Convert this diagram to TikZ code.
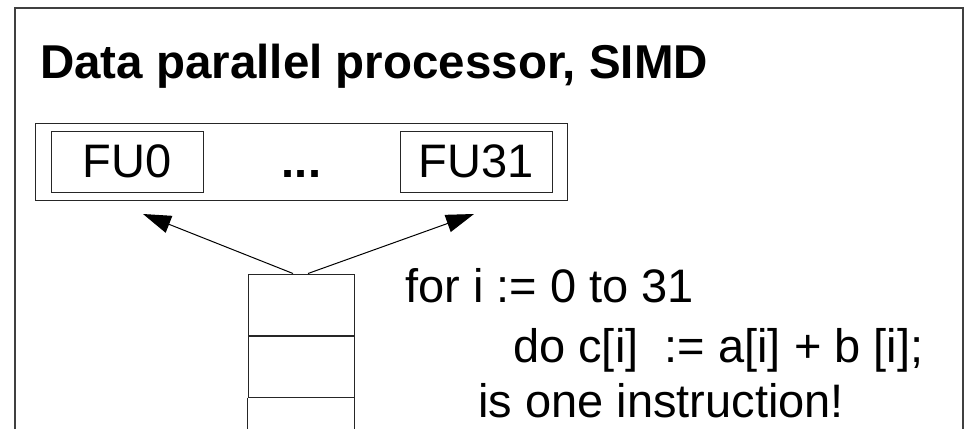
\documentclass[tikz,border=0pt]{standalone}
\usepackage{fontspec}
\setmainfont{Liberation Sans}
\usepackage{tikz}
\usetikzlibrary{arrows.meta,positioning,fit,calc}

\begin{document}
\begin{tikzpicture}[x=1pt, y=-1pt, >={Triangle[length=28pt,width=18pt]},
  font=\fontsize{47pt}{57pt}\selectfont,
  fu/.style={rectangle, draw=black!85, line width=1pt, minimum width=152pt,
             minimum height=61pt, inner sep=0pt},
  cell/.style={rectangle, draw=black!85, line width=1pt, minimum width=106pt,
               minimum height=61pt, inner sep=0pt},
  code/.style={anchor=base west, inner sep=0pt}]
  \useasboundingbox (0,0) rectangle (967,429);
  % open frame, its bottom edge is cut off
  \draw[black!75, line width=1.5pt] (15,429) |- (963,8) -- (963,429);
  \node[anchor=base west, inner sep=0pt,
        font=\fontsize{47.5pt}{57pt}\selectfont\bfseries] (title) at (40,78)
       {Data parallel processor, SIMD};
  % the functional units
  \node[fu] (fu0) at (127,161.5) {FU0};
  \node[fu, right=196pt of fu0] (fu31) {FU31};
  \node[anchor=base, inner sep=0pt, font=\fontsize{47pt}{57pt}\selectfont\bfseries]
       (dots) at ($(fu0.base)!.5!(fu31.base)$) {...};
  \node[draw=black!85, line width=1pt, fit=(fu0)(fu31), inner xsep=15pt,
        inner ysep=7.5pt] (fuarray) {};
  % instruction stack
  \node[cell] (cell1) at (301,304.5) {};
  \node[cell, below=0pt of cell1] (cell2) {};
  \draw[black!85, line width=1pt] (cell2.south west) -- ++(0,31)
        (cell2.south east) -- ++(0,31);
  \coordinate (tipL) at (143,214);
  \coordinate (tipR) at (474,214);
  \draw[->, line width=1pt] ([xshift=-8pt]cell1.north) -- (tipL);
  \draw[->, line width=1pt] ([xshift=7pt]cell1.north) -- (tipR);
  % the loop
  \node[code] (loop1) at (405,302) {for i := 0 to 31};
  \node[code] (loop2) at (513,362) {do c[i]\ \ := a[i] + b [i];};
  \node[code] (loop3) at (478,417) {is one instruction!};
\end{tikzpicture}
\end{document}
